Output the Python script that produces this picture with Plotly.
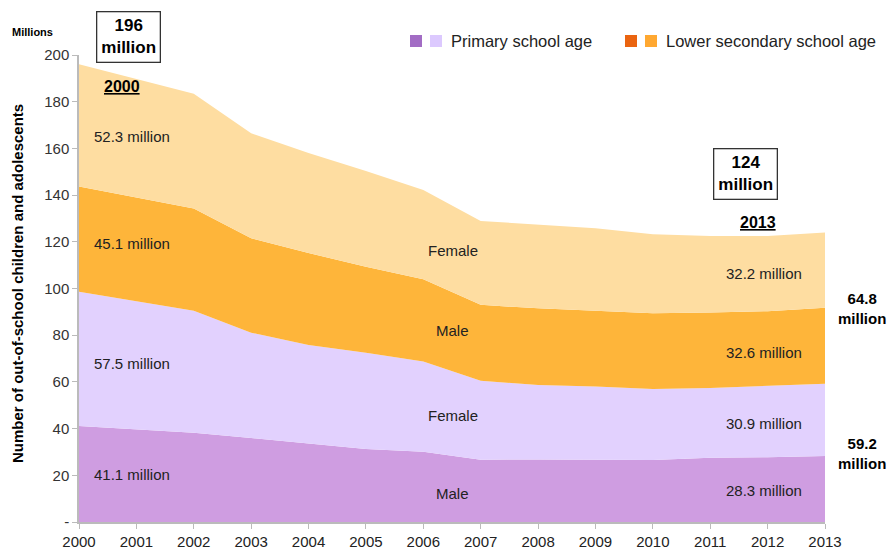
import plotly.graph_objects as go

years = list(range(2000, 2014))
primary_male = [41.1, 39.7, 38.2, 36.0, 33.5, 31.3, 30.1, 26.7, 26.8, 26.8, 26.6, 27.5, 27.7, 28.3]
primary_female = [57.5, 54.8, 52.3, 45.1, 42.3, 41.2, 38.6, 33.8, 31.9, 31.2, 30.4, 29.9, 30.5, 30.9]
lower_sec_male = [45.1, 44.5, 43.8, 40.4, 39.4, 36.8, 35.3, 32.5, 32.8, 32.5, 32.4, 32.3, 32.1, 32.6]
lower_sec_female = [52.3, 50.6, 49.1, 45.0, 42.8, 41.0, 38.2, 35.9, 35.7, 35.3, 33.8, 32.8, 32.2, 32.2]
y_ticks = [0, 20, 40, 60, 80, 100, 120, 140, 160, 180, 200]
y_ticktext = ["-", "20", "40", "60", "80", "100", "120", "140", "160", "180", "200"]

FONT = "Liberation Sans, Arial, sans-serif"
W, H = 890, 549
L, R, T, B = 79, 825, 55, 522   # plot area in page pixels


def px(x):
    return (x - L) / (R - L)


def py(y):
    return (B - y) / (B - T)


fig = go.Figure()
series = [
    ("Primary male", primary_male, "#CF9DE1"),
    ("Primary female", primary_female, "#E2D1FE"),
    ("Lower secondary male", lower_sec_male, "#FEB53A"),
    ("Lower secondary female", lower_sec_female, "#FEDDA1"),
]
for name, vals, col in series:
    fig.add_trace(go.Scatter(
        x=years, y=vals, name=name, stackgroup="one", mode="lines",
        line=dict(width=0, color=col), fillcolor=col, showlegend=False,
        hoverinfo="x+y+name",
    ))

ann = []


def text(x, y, t, size=15, bold=False, xanchor="center", border=False, color="#222", angle=0):
    s = f"<b>{t}</b>" if bold else t
    d = dict(x=px(x), y=py(y), xref="paper", yref="paper", text=s, showarrow=False,
             xanchor=xanchor, yanchor="middle", textangle=angle,
             font=dict(family=FONT, size=size, color=color))
    if border:
        d.update(bordercolor="#333", borderwidth=1.3, borderpad=4, bgcolor="white")
    ann.append(d)


# stack-label annotations
text(92, 136, "52.3 million", xanchor="left")
text(92, 243, "45.1 million", xanchor="left")
text(92, 363, "57.5 million", xanchor="left")
text(92, 474, "41.1 million", xanchor="left")
text(453, 250, "Female")
text(452, 330, "Male")
text(453, 415, "Female")
text(452, 493, "Male")
text(764, 273, "32.2 million")
text(764, 352, "32.6 million")
text(764, 423, "30.9 million")
text(764, 490, "28.3 million")
text(128, 37, "196<br>million", size=17, bold=True, border=True, color="#000")
text(122, 87, "<u>2000</u>", size=16, bold=True, color="#000")
text(745, 174, "124<br>million", size=17, bold=True, border=True, color="#000")
text(758, 222, "<u>2013</u>", size=16, bold=True, color="#000")
text(862, 308, "64.8<br>million", size=15, bold=True, color="#000")
text(862, 453, "59.2<br>million", size=15, bold=True, color="#000")
text(10, 32, "Millions", size=11, bold=True, xanchor="left", color="#000")
text(17, 284, "Number of out-of-school children and adolescents", size=15, bold=True,
     color="#000", angle=-90)

# custom legend
shapes = []
legend_items = [
    (416, ["#A26CC4", "#DCC9FE"], "Primary school age"),
    (631, ["#EA6410", "#FFA831"], "Lower secondary school age"),
]
for x0, cols, lab in legend_items:
    for i, c in enumerate(cols):
        xs = x0 + i * 20
        shapes.append(dict(type="rect", xref="paper", yref="paper",
                           x0=px(xs - 6), x1=px(xs + 6), y0=py(47), y1=py(35),
                           fillcolor=c, line=dict(width=0)))
    ann.append(dict(x=px(x0 + 33), y=py(41), xref="paper", yref="paper", text=lab,
                    showarrow=False, xanchor="left", yanchor="middle",
                    font=dict(family=FONT, size=16.5, color="#222")))

fig.update_layout(
    width=W, height=H,
    margin=dict(l=L, r=W - R, t=T, b=H - B, pad=0),
    paper_bgcolor="white", plot_bgcolor="white",
    font=dict(family=FONT, size=15, color="#333"),
    annotations=ann, shapes=shapes,
    xaxis=dict(range=[2000, 2013], tickmode="array", tickvals=years, automargin=False,
               showgrid=False, zeroline=False, showline=True, linecolor="#BBBBBB",
               linewidth=1.5, ticks="outside", ticklen=5, tickcolor="#BBBBBB",
               tickfont=dict(size=15, color="#222")),
    yaxis=dict(range=[0, 200], tickmode="array", tickvals=y_ticks, ticktext=y_ticktext,
               automargin=False,
               showgrid=False, zeroline=False, showline=True, linecolor="#BBBBBB",
               linewidth=1.5, ticks="outside", ticklen=5, tickcolor="#BBBBBB",
               tickfont=dict(size=15, color="#333")),
)

fig.write_html("out.html", config={"displayModeBar": False},
               post_script="document.body.style.margin='0';"
                           "document.body.style.overflow='hidden';")
